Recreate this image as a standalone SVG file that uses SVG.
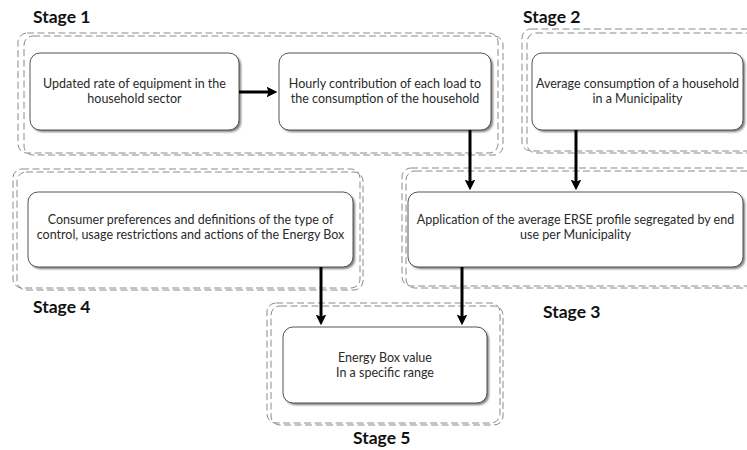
<svg xmlns="http://www.w3.org/2000/svg" width="747" height="450" viewBox="0 0 747 450">
  <defs>
    <style>
      .frame { fill: none; stroke: #8a8a8a; stroke-width: 1; stroke-dasharray: 7 3.5; }
      .box { fill: #ffffff; stroke: #555555; stroke-width: 1; }
      .shadow { fill: #7a7a7a; filter: url(#soft); }
      .txt { font-family: Lato, "Liberation Sans", sans-serif; font-size: 12.5px; fill: #2a2a2a; text-anchor: middle; }
      .stage { font-family: Lato, "Liberation Sans", sans-serif; font-size: 17.5px; font-weight: bold; fill: #111111; }
      .conn { stroke: #000000; stroke-width: 3; fill: none; marker-end: url(#head); }
    </style>
    <filter id="soft" x="-5%" y="-5%" width="110%" height="110%">
      <feGaussianBlur stdDeviation="1"/>
    </filter>
    <marker id="head" viewBox="0 0 10 10" refX="6" refY="5" markerWidth="3.6" markerHeight="3.6" orient="auto" markerUnits="strokeWidth">
      <path d="M0,0 L10,5 L0,10 L2,5 Z" fill="#000000"/>
    </marker>
  </defs>

  <rect width="747" height="450" fill="#ffffff"/>

  <!-- Stage frames (double dashed outlines) -->
  <g id="stage1">
    <rect class="frame" x="18" y="33" width="480" height="120" rx="9"/>
    <rect class="frame" x="24" y="36" width="479" height="119" rx="9"/>
    <text class="stage" x="33" y="23">Stage 1</text>
  </g>
  <g id="stage2">
    <rect class="frame" x="522" y="29" width="240" height="122" rx="9"/>
    <rect class="frame" x="527" y="33" width="240" height="120" rx="9"/>
    <text class="stage" x="523" y="23">Stage 2</text>
  </g>
  <g id="stage4">
    <rect class="frame" x="13" y="169" width="347" height="119" rx="9"/>
    <rect class="frame" x="17" y="172" width="346" height="118" rx="9"/>
    <text class="stage" x="33" y="313">Stage 4</text>
  </g>
  <g id="stage3">
    <rect class="frame" x="402" y="168" width="360" height="118" rx="9"/>
    <rect class="frame" x="406" y="171" width="360" height="117" rx="9"/>
    <text class="stage" x="543" y="318">Stage 3</text>
  </g>
  <g id="stage5">
    <rect class="frame" x="267" y="303" width="233" height="120" rx="9"/>
    <rect class="frame" x="271" y="306" width="232" height="119" rx="9"/>
    <text class="stage" x="353" y="444">Stage 5</text>
  </g>

  <!-- Process nodes -->
  <g id="node-equipment">
    <rect class="shadow" x="32" y="55" width="209" height="77" rx="10"/>
    <rect class="box" x="30" y="53" width="209" height="77" rx="10"/>
    <text class="txt" x="134.5" y="88">Updated rate of equipment in the</text>
    <text class="txt" x="134.5" y="103">household sector</text>
  </g>
  <g id="node-hourly">
    <rect class="shadow" x="281" y="55" width="212" height="77" rx="10"/>
    <rect class="box" x="279" y="53" width="212" height="77" rx="10"/>
    <text class="txt" x="385" y="88">Hourly contribution of each load to</text>
    <text class="txt" x="385" y="103">the consumption of the household</text>
  </g>
  <g id="node-average">
    <rect class="shadow" x="534" y="55" width="211" height="77" rx="10"/>
    <rect class="box" x="532" y="53" width="211" height="77" rx="10"/>
    <text class="txt" x="637.5" y="88">Average consumption of a household</text>
    <text class="txt" x="637.5" y="103">in a Municipality</text>
  </g>
  <g id="node-preferences">
    <rect class="shadow" x="30" y="194" width="325" height="75" rx="10"/>
    <rect class="box" x="28" y="192" width="325" height="75" rx="10"/>
    <text class="txt" x="190.5" y="224">Consumer preferences and definitions of the type of</text>
    <text class="txt" x="190.5" y="239">control, usage restrictions and actions of the Energy Box</text>
  </g>
  <g id="node-erse">
    <rect class="shadow" x="410" y="194" width="335" height="75" rx="10"/>
    <rect class="box" x="408" y="192" width="335" height="75" rx="10"/>
    <text class="txt" x="575.5" y="224">Application of the average ERSE profile segregated  by end</text>
    <text class="txt" x="575.5" y="239">use per Municipality</text>
  </g>
  <g id="node-energybox">
    <rect class="shadow" x="285" y="329" width="204" height="76" rx="10"/>
    <rect class="box" x="283" y="327" width="204" height="76" rx="10"/>
    <text class="txt" x="385" y="362">Energy Box value</text>
    <text class="txt" x="385" y="377">In a specific range</text>
  </g>

  <!-- Connectors -->
  <g id="connectors">
    <line class="conn" x1="239" y1="92" x2="273" y2="92"/>
    <line class="conn" x1="470" y1="130" x2="470" y2="186"/>
    <line class="conn" x1="576" y1="130" x2="576" y2="186"/>
    <line class="conn" x1="321" y1="267" x2="321" y2="321"/>
    <line class="conn" x1="462" y1="267" x2="462" y2="321"/>
  </g>
</svg>
